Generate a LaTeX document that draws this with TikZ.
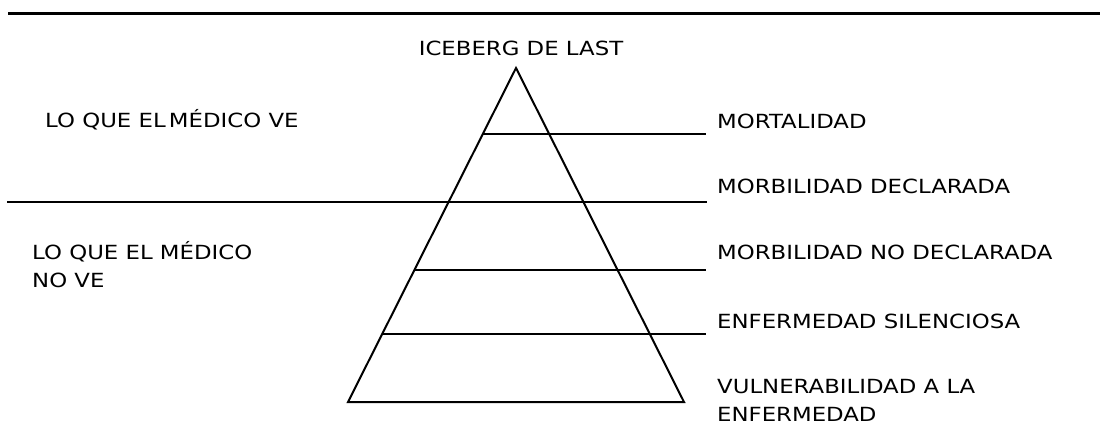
\documentclass[tikz,border=0pt]{standalone}
\usepackage{fontspec}
\setmainfont[FakeStretch=1.17]{DejaVu Sans}
\usetikzlibrary{calc}
\tikzset{
  lbl/.style={anchor=base west, inner sep=0pt, font=\fontsize{19.5}{28}\selectfont, align=left},
  nivel/.style={line width=2pt},
}
\begin{document}
\begin{tikzpicture}[x=1pt,y=-1pt]
            \useasboundingbox (0,0) rectangle (1100,444);

            % Top rule
            \coordinate (r1) at (8,13.5);
            \coordinate (r2) at (1100,13.5);
            \draw[line width=3pt] (r1) -- (r2);

            % Title
            \node[lbl, anchor=base] (titulo) at (521,56) {ICEBERG DE LAST};

            % The iceberg
            \coordinate (apex) at (516,68);
            \coordinate (bl) at (348,402);
            \coordinate (br) at (684,402);
            \draw[nivel, line join=miter] (apex) -- (bl) -- (br) -- cycle;

            % Levels cutting the iceberg
            \coordinate (m1) at ($(apex)!0.1976!(bl)$);
            \coordinate (m3) at ($(apex)!0.605!(bl)$);
            \coordinate (m4) at ($(apex)!0.796!(bl)$);
            \draw[nivel] (m1) -- (m1 -| 706,0);
            \coordinate (w1) at (7,202);
            \draw[nivel] (w1) -- (707,202);
            \draw[nivel] (m3) -- (m3 -| 706,0);
            \draw[nivel] (m4) -- (m4 -| 706,0);

            % What the doctor sees / does not see
            \node[lbl] (ve) at (45,127) {LO QUE EL\,MÉDICO VE};
            \node[lbl] (nove) at (32,287) {LO QUE EL MÉDICO\\NO VE};

            % Labels of the levels
            \node[lbl] (mort) at (717,128) {MORTALIDAD};
            \node[lbl] (mdecl) at (717,193) {MORBILIDAD DECLARADA};
            \node[lbl] (mnodecl) at (717,259) {MORBILIDAD NO DECLARADA};
            \node[lbl] (silen) at (717,328) {ENFERMEDAD SILENCIOSA};
            \node[lbl] (vuln) at (717,421) {VULNERABILIDAD A LA\\ENFERMEDAD};
        \end{tikzpicture}
\end{document}
